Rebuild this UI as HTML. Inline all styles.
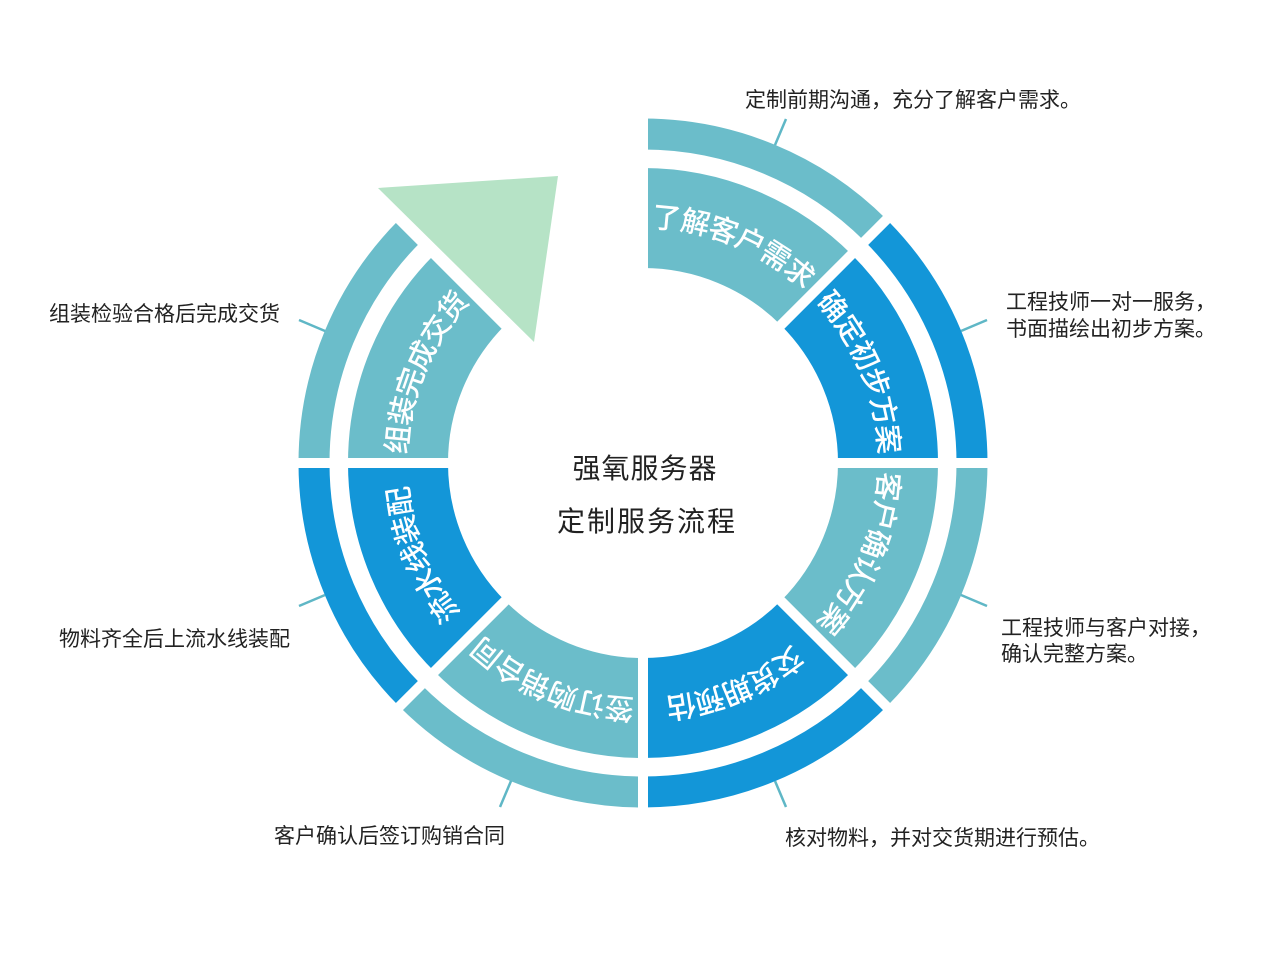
<!DOCTYPE html>
<html><head><meta charset="utf-8"><style>
html,body{margin:0;padding:0;background:#fff;}
svg text{font-family:"Liberation Sans","Noto Sans CJK SC",sans-serif;}
</style></head><body>
<svg width="1280" height="952" viewBox="0 0 1280 952" xmlns="http://www.w3.org/2000/svg">
<g transform="rotate(-90 643 463)">
  <circle cx="643" cy="463" r="245" fill="none" stroke="#6bbdca" stroke-width="100" pathLength="360" stroke-dasharray="45 45"/>
  <circle cx="643" cy="463" r="245" fill="none" stroke="#1396d8" stroke-width="100" pathLength="360" stroke-dasharray="0 45 45 45 45 45 45 90"/>
  <circle cx="643" cy="463" r="329" fill="none" stroke="#6bbdca" stroke-width="31" pathLength="360" stroke-dasharray="45 45"/>
  <circle cx="643" cy="463" r="329" fill="none" stroke="#1396d8" stroke-width="31" pathLength="360" stroke-dasharray="0 45 45 45 45 45 45 90"/>
</g>
<g stroke="#fff" stroke-width="10">
  <line x1="643" y1="463" x2="643" y2="90"/>
  <line x1="643" y1="463" x2="643" y2="836"/>
  <line x1="643" y1="463" x2="270" y2="463"/>
  <line x1="643" y1="463" x2="1016" y2="463"/>
  <line x1="643" y1="463" x2="907" y2="199"/>
  <line x1="643" y1="463" x2="907" y2="727"/>
  <line x1="643" y1="463" x2="379" y2="727"/>
  <line x1="643" y1="463" x2="379" y2="199"/>
</g>
<polygon points="378,188 558,176 534,342" fill="#b6e3c6"/>
<g stroke="#5fb7c6" stroke-width="2.5">
  <line x1="775" y1="145" x2="786" y2="119"/>
  <line x1="961" y1="331" x2="987" y2="320"/>
  <line x1="961" y1="595" x2="987" y2="606"/>
  <line x1="775" y1="781" x2="786" y2="807"/>
  <line x1="511" y1="781" x2="500" y2="807"/>
  <line x1="325" y1="595" x2="299" y2="606"/>
  <line x1="325" y1="331" x2="299" y2="320"/>
</g>
<defs>
  <path id="ring" d="M643,218 A245,245 0 1,1 642.9,218" fill="none"/>
</defs>
<g fill="#fff" font-size="29" font-weight="500" text-anchor="middle" dominant-baseline="central">
  <text><textPath href="#ring" startOffset="6.25%">了解客户需求</textPath></text>
  <text><textPath href="#ring" startOffset="18.75%">确定初步方案</textPath></text>
  <text><textPath href="#ring" startOffset="31.25%">客户确认方案</textPath></text>
  <text><textPath href="#ring" startOffset="43.75%">交货期预估</textPath></text>
  <text><textPath href="#ring" startOffset="56.25%">签订购销合同</textPath></text>
  <text><textPath href="#ring" startOffset="68.75%">流水线装配</textPath></text>
  <text><textPath href="#ring" startOffset="81.25%">组装完成交货</textPath></text>
</g>
<g fill="#222" font-size="28" text-anchor="middle">
  <text x="645" y="478" letter-spacing="1">强氧服务器</text>
  <text x="647" y="531" letter-spacing="2">定制服务流程</text>
</g>
<g fill="#222" font-size="21">
  <text x="745" y="107">定制前期沟通，充分了解客户需求。</text>
  <text x="1006" y="309">工程技师一对一服务，</text>
  <text x="1006" y="336">书面描绘出初步方案。</text>
  <text x="1001" y="635">工程技师与客户对接，</text>
  <text x="1001" y="661">确认完整方案。</text>
  <text x="785" y="845">核对物料，并对交货期进行预估。</text>
  <text x="274" y="843">客户确认后签订购销合同</text>
  <text x="59" y="646">物料齐全后上流水线装配</text>
  <text x="49" y="321">组装检验合格后完成交货</text>
</g>
</svg>
</body></html>
